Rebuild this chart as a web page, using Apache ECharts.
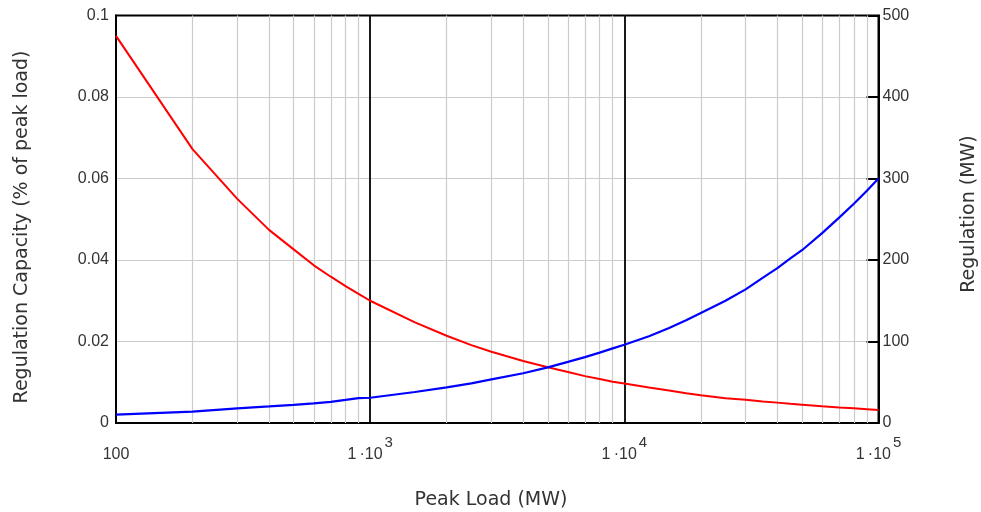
<!DOCTYPE html>
<html>
<head>
<meta charset="utf-8">
<script src="https://cdn.jsdelivr.net/npm/echarts@6/dist/echarts.min.js"></script>
<style>
html,body{margin:0;padding:0;background:#fff;}
#chart{width:981px;height:512px;}
</style>
</head>
<body>
<div id="chart"></div>
<script>
// Peak load (MW) sample points
var peakLoad = [100,200,300,400,500,600,700,800,900,1000,1500,2000,2500,3000,4000,5000,6000,7000,8000,9000,10000,12500,15000,17500,20000,25000,30000,35000,40000,45000,50000,60000,70000,80000,90000,100000];
// Regulation capacity (fraction of peak load) - left axis
var regCapacity = [0.0950,0.0672,0.0550,0.0474,0.0426,0.0387,0.0359,0.0336,0.0317,0.0300,0.0247,0.0214,0.0191,0.0175,0.0152,0.0137,0.0125,0.0115,0.0108,0.0101,0.0097,0.0087,0.0080,0.0073,0.0068,0.0061,0.0057,0.0053,0.0050,0.0047,0.0045,0.0041,0.0038,0.0036,0.0034,0.0032];
// Regulation (MW) - right axis
var regulationMW = [10.3,14.0,18.0,20.3,22.3,24.0,26.0,28.3,30.5,31.0,38.0,43.8,48.7,53.6,61.0,68.3,75.0,80.8,86.3,91.6,96.0,106.5,116.5,126,135,150,164,178,190,202,212,233,252,269,285,300];
// Minor (non-decade) vertical grid positions
var minorGridX = [200,300,400,500,600,700,800,900,2000,3000,4000,5000,6000,7000,8000,9000,20000,30000,40000,50000,60000,70000,80000,90000];
// X tick labels (mantissa text, exponent)
var xTickBase = {2:'100', 3:'1\u2009·10', 4:'1\u2009·10', 5:'1\u2009·10'};
var xTickExp = {2:'', 3:'3', 4:'4', 5:'5'};
var leftTicks = {min:0, max:0.1, interval:0.02};
var rightTicks = {min:0, max:500, interval:100};

var FONT = 'Liberation Sans';
var TFONT = '19px "DejaVu Sans"';
var TXT = '#333333';

var redData = peakLoad.map(function(x,i){return [x, regCapacity[i]];});
var blueData = peakLoad.map(function(x,i){return [x, regulationMW[i]];});

var chart = echarts.init(document.getElementById('chart'), null, {renderer:'canvas'});
chart.setOption({
  animation:false,
  backgroundColor:'#ffffff',
  grid:{left:116, right:102.5, top:15.5, bottom:89, show:true, borderColor:'#000', borderWidth:2, backgroundColor:'transparent'},
  xAxis:{
    type:'log', logBase:10, min:100, max:100000,
    axisLine:{show:true, lineStyle:{color:'#000', width:2}},
    axisTick:{show:false},
    minorTick:{show:false},
    splitLine:{show:true, showMinLine:false, showMaxLine:false, lineStyle:{color:'#1a1a1a', width:2}},
    axisLabel:{
      margin:18, color:TXT, fontFamily:FONT,
      formatter:function(v){
        var e = Math.round(Math.log(v)/Math.LN10);
        if (xTickExp[e]) return '{m|'+xTickBase[e]+'}{s|'+xTickExp[e]+'}';
        return '{m|'+xTickBase[e]+'}';
      },
      rich:{
        m:{fontSize:16, fontFamily:FONT, color:TXT, lineHeight:16, padding:[11,0,0,0]},
        s:{fontSize:15, fontFamily:FONT, color:TXT, lineHeight:15, padding:[0,0,12,2]}
      }
    }
  },
  yAxis:[
    {
      type:'value', min:leftTicks.min, max:leftTicks.max, interval:leftTicks.interval, position:'left',
      axisLine:{show:true, lineStyle:{color:'#000', width:2}},
      axisTick:{show:false},
      splitLine:{show:true, showMinLine:false, showMaxLine:false, lineStyle:{color:'#cccccc', width:1.2}},
      axisLabel:{margin:7, fontSize:16, fontFamily:FONT, color:TXT, padding:[4,0,0,0], formatter:function(v){return String(Math.round(v*100)/100);}}
    },
    {
      type:'value', min:rightTicks.min, max:rightTicks.max, interval:rightTicks.interval, position:'right',
      axisLine:{show:true, lineStyle:{color:'#000', width:2}},
      axisTick:{show:true, inside:true, length:12, lineStyle:{color:'#000', width:2}},
      splitLine:{show:false},
      axisLabel:{margin:4, fontSize:16, fontFamily:FONT, color:TXT, padding:[4,0,0,0]}
    }
  ],
  series:[
    {
      type:'line', data:[], z:1, silent:true,
      markLine:{
        silent:true, symbol:['none','none'], label:{show:false},
        lineStyle:{color:'#cccccc', width:1.2, type:'solid'},
        emphasis:{disabled:true},
        data:minorGridX.map(function(v){return {xAxis:v};})
      }
    },
    {
      type:'line', data:redData, yAxisIndex:0, z:5, showSymbol:false, symbol:'none',
      lineStyle:{color:'#ff0000', width:2}, itemStyle:{color:'#ff0000'}
    },
    {
      type:'line', data:blueData, yAxisIndex:1, z:5, showSymbol:false, symbol:'none',
      lineStyle:{color:'#0000ff', width:2.2}, itemStyle:{color:'#0000ff'}
    }
  ],
  graphic:[
    {type:'text', x:22, y:227, rotation:Math.PI/2, silent:true,
     style:{text:'Regulation Capacity (% of peak load)', font:TFONT, fill:TXT, align:'center', verticalAlign:'middle', textAlign:'center', textVerticalAlign:'middle'}},
    {type:'text', x:969, y:214, rotation:Math.PI/2, silent:true,
     style:{text:'Regulation (MW)', font:TFONT, fill:TXT, align:'center', verticalAlign:'middle', textAlign:'center', textVerticalAlign:'middle'}},
    {type:'text', x:491, y:500, silent:true,
     style:{text:'Peak Load (MW)', font:TFONT, fill:TXT, align:'center', verticalAlign:'middle', textAlign:'center', textVerticalAlign:'middle'}}
  ]
});
</script>
</body>
</html>
